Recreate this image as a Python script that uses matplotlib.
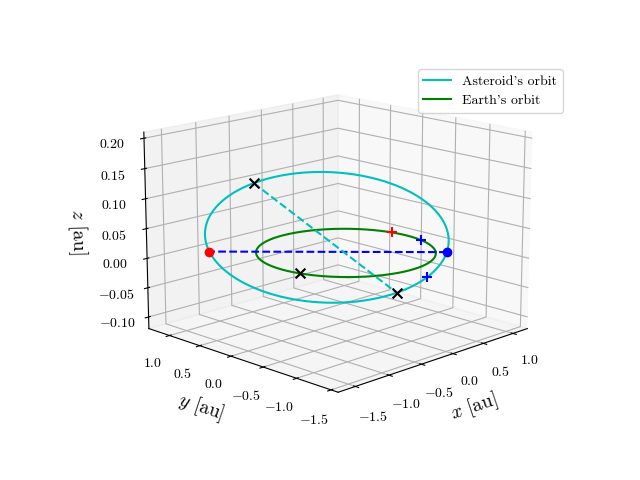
import numpy as np
import matplotlib
matplotlib.use("Agg")
import matplotlib.pyplot as plt

plt.rcParams["font.family"] = "serif"
plt.rcParams["font.serif"] = ["cmr10"]
plt.rcParams["mathtext.fontset"] = "cm"
plt.rcParams["axes.formatter.use_mathtext"] = True

# asteroid orbital elements
a_ast = 1.43
e_ast = 0.31
inc_deg = 2.3
node_deg = -45.0
peri_deg = -61.0
# earth
a_earth = 1.0

# argument of latitude (deg) of the marked positions
ast_marks = [125.0, -57.0]
ast_plus_blue = -30.0
earth_mark = -120.0
earth_plus_red = 57.0
earth_plus_blue = 30.0

def orbit(a, e, inc, node, peri, u_deg):
    u = np.radians(np.atleast_1d(u_deg))
    nu = u - np.radians(peri)
    r = a * (1 - e**2) / (1 + e * np.cos(nu))
    i, O = np.radians([inc, node])
    x = r * (np.cos(O) * np.cos(u) - np.sin(O) * np.sin(u) * np.cos(i))
    y = r * (np.sin(O) * np.cos(u) + np.cos(O) * np.sin(u) * np.cos(i))
    z = r * np.sin(u) * np.sin(i)
    return x, y, z

def ast(u):
    return orbit(a_ast, e_ast, inc_deg, node_deg, peri_deg, u)

def earth(u):
    return orbit(a_earth, 0.0, 0.0, node_deg, 0.0, u)

fig = plt.figure(figsize=(6.4, 4.8))
ax = fig.add_subplot(projection="3d")
ax.set_position([0.133, 0.122, 0.775, 0.77])
ax.set_box_aspect(None, zoom=1.14)

u_all = np.linspace(0, 360, 400)
ax.plot(*ast(u_all), color="c", label="Asteroid's orbit")
ax.plot(*earth(u_all), color="g", label="Earth's orbit")

# line of nodes
ax.plot(*ast([0.0, 180.0]), "b--")
ax.plot(*ast(0.0), "bo")
ax.plot(*ast(180.0), "ro")

ax.plot(*ast(ast_marks), "c--")
ax.scatter(*ast(ast_marks), marker="x", color="k", s=50, depthshade=False)
ax.scatter(*earth(earth_mark), marker="x", color="k", s=50, depthshade=False)
ax.scatter(*earth(earth_plus_red), marker="+", color="r", s=60, depthshade=False)
ax.scatter(*earth(earth_plus_blue), marker="+", color="b", s=60, depthshade=False)
ax.scatter(*ast(ast_plus_blue), marker="+", color="b", s=60, depthshade=False)

ax.set_xlim(-1.75, 1.25)
ax.set_ylim(-1.6, 1.35)
ax.set_zlim(-0.12, 0.21)
ax.set_zticks([-0.10, -0.05, 0.0, 0.05, 0.10, 0.15, 0.20])
ax.set_xlabel(r"$x$ [au]", fontsize=14)
ax.set_ylabel(r"$y$ [au]", fontsize=14)
ax.set_zlabel(r"$z$ [au]", fontsize=14)
ax.view_init(elev=15, azim=-135)
ax.legend(loc="upper right", bbox_to_anchor=(0.89, 0.87), bbox_transform=fig.transFigure)
fig.savefig("out.png", dpi=100)
